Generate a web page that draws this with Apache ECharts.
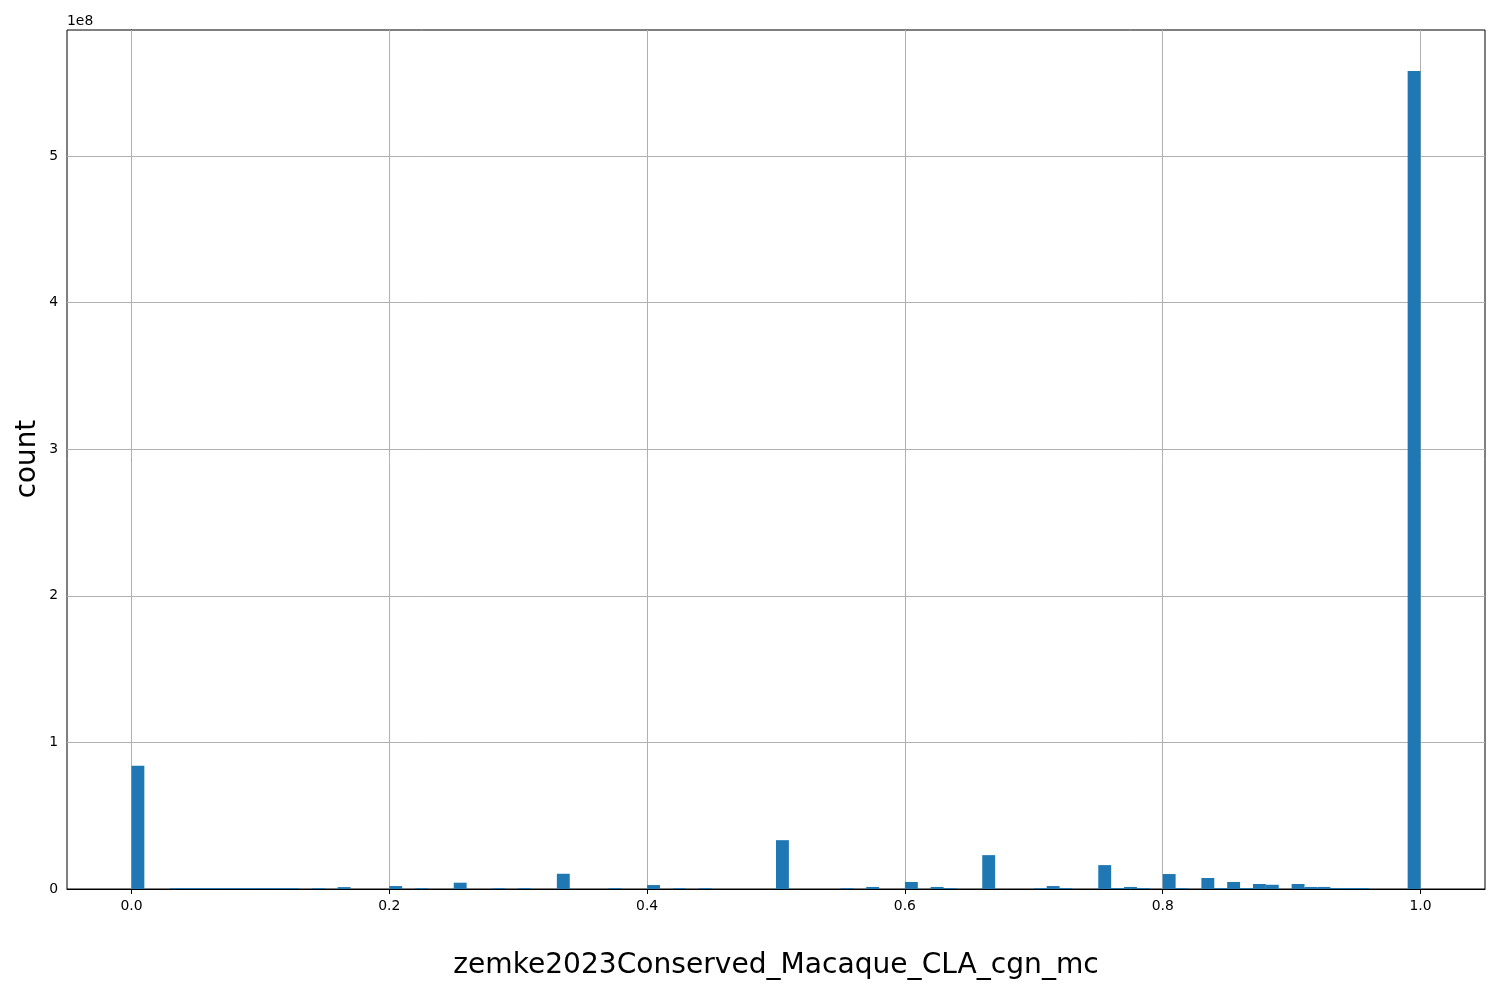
<!DOCTYPE html>
<html>
<head>
<meta charset="utf-8">
<script src="https://cdn.jsdelivr.net/npm/echarts@6/dist/echarts.min.js"></script>
<style>html,body{margin:0;padding:0;background:#fff}#c{width:1500px;height:1000px}</style>
</head>
<body>
<div id="c"></div>
<script>
// Histogram bins (left edges, width 0.01) and their counts
var binWidth = 0.01;
var binLefts = [0.00, 0.03, 0.04, 0.05, 0.06, 0.07, 0.08, 0.09, 0.10, 0.11, 0.12,
  0.14, 0.16, 0.20, 0.22, 0.25, 0.28, 0.30, 0.33, 0.37, 0.40, 0.42, 0.44,
  0.50, 0.55, 0.57, 0.60, 0.62, 0.63, 0.66, 0.70, 0.71, 0.72, 0.75, 0.76, 0.77, 0.78,
  0.80, 0.81, 0.83, 0.84, 0.85, 0.86, 0.87, 0.88, 0.90, 0.91, 0.92, 0.93, 0.94, 0.95, 0.99];
var counts = [8.4e7, 0.6e6, 0.6e6, 0.6e6, 0.6e6, 0.6e6, 0.6e6, 0.6e6, 0.6e6, 0.6e6, 0.6e6,
  0.6e6, 1.3e6, 2.0e6, 0.6e6, 4.3e6, 0.6e6, 0.6e6, 10.4e6, 0.6e6, 2.7e6, 0.6e6, 0.6e6,
  33.3e6, 0.6e6, 1.4e6, 4.8e6, 1.4e6, 0.6e6, 23.1e6, 0.6e6, 2.0e6, 0.6e6, 16.3e6, 0.6e6, 1.4e6, 0.6e6,
  10.2e6, 0.6e6, 7.5e6, 0.6e6, 4.8e6, 0.6e6, 3.4e6, 2.9e6, 3.4e6, 1.4e6, 1.4e6, 0.7e6, 0.7e6, 0.7e6, 5.58e8];
var xTicks = [0.0, 0.2, 0.4, 0.6, 0.8, 1.0];
var yTicks = [0, 1e8, 2e8, 3e8, 4e8, 5e8];
var xLabel = 'zemke2023Conserved_Macaque_CLA_cgn_mc';
var yLabel = 'count';

var data = binLefts.map(function (b, i) { return [b, b + binWidth, counts[i]]; });
var font = 'DejaVu Sans';
var chart = echarts.init(document.getElementById('c'));
chart.setOption({
  animation: false,
  grid: { left: 67, right: 15, top: 30, bottom: 111, show: true, borderColor: '#000', borderWidth: 1, backgroundColor: 'transparent' },
  xAxis: {
    type: 'value', min: -0.05, max: 1.05,
    axisLine: { show: true, lineStyle: { color: '#000', width: 1 } },
    axisTick: { show: true, customValues: xTicks, length: 5, lineStyle: { color: '#000' } },
    axisLabel: { customValues: xTicks, color: '#000', fontFamily: font, fontSize: 13.9, margin: 10,
      formatter: function (v) { return v.toFixed(1); } },
    splitLine: { show: false }
  },
  yAxis: {
    type: 'value', min: 0, max: 5.859e8,
    axisLine: { show: true, lineStyle: { color: '#000', width: 1 } },
    axisTick: { show: true, customValues: yTicks, length: 5, lineStyle: { color: '#000' } },
    axisLabel: { customValues: yTicks, color: '#000', fontFamily: font, fontSize: 13.9, margin: 9,
      formatter: function (v) { return String(Math.round(v / 1e8)); } },
    splitLine: { show: false }
  },
  series: [
    {
      type: 'line', data: [], silent: true,
      markLine: {
        symbol: 'none', silent: true, label: { show: false },
        lineStyle: { color: '#b0b0b0', width: 1, type: 'solid' },
        data: xTicks.map(function (v) { return { xAxis: v }; }).concat(
              yTicks.slice(1).map(function (v) { return { yAxis: v }; }))
      }
    },
    {
      type: 'custom',
      data: data,
      encode: { x: [0, 1], y: 2 },
      renderItem: function (params, api) {
        var p0 = api.coord([api.value(0), api.value(2)]);
        var p1 = api.coord([api.value(1), 0]);
        return { type: 'rect', shape: { x: p0[0], y: p0[1], width: p1[0] - p0[0], height: p1[1] - p0[1] },
          style: { fill: '#1f77b4' } };
      },
      z: 5
    }
  ],
  graphic: [
    { type: 'text', left: 67, top: 14, style: { text: '1e8', font: '13.9px "DejaVu Sans"', fill: '#000' } },
    { type: 'text', x: 776, y: 966, style: { text: xLabel, font: '28.1px "DejaVu Sans"', fill: '#000', align: 'center', verticalAlign: 'middle' } },
    { type: 'text', x: 28, y: 459, rotation: Math.PI / 2, style: { text: yLabel, font: '27.8px "DejaVu Sans"', fill: '#000', align: 'center', verticalAlign: 'middle' } }
  ]
});
</script>
</body>
</html>
